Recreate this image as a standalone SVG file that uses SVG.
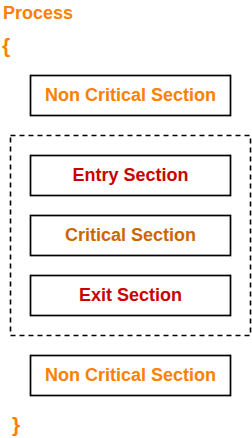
<svg xmlns="http://www.w3.org/2000/svg" width="252" height="438" viewBox="0 0 252 438">
<style>
.box{fill:#fff;stroke:#000;stroke-width:1.7}
.lbl{font-family:"Liberation Sans",Arial,sans-serif;font-weight:bold;font-size:18px;text-anchor:middle}
.orange{fill:#FF8000}
.red{fill:#CC0000}
.dorange{fill:#CC6600}
.brace{font-family:"Liberation Sans",Arial,sans-serif;font-weight:bold;fill:#FF8000}
</style>
<rect width="252" height="438" fill="#fff"/>
<text class="brace" x="3" y="19" font-size="18">Process</text>
<text class="brace" x="2" y="53" font-size="21">{</text>
<g id="connectors"></g>
<g id="group">
<rect x="10.5" y="135.5" width="240" height="200" fill="none" stroke="#000" stroke-width="1.6" stroke-dasharray="5 4"/>
</g>
<g id="noncrit1">
<rect class="box" x="30.5" y="75.5" width="200" height="40"/>
<text class="lbl orange" x="130.5" y="100.5">Non Critical Section</text>
</g>
<g id="entry">
<rect class="box" x="30.5" y="155.5" width="200" height="40"/>
<text class="lbl red" x="130.5" y="180.5">Entry Section</text>
</g>
<g id="critical">
<rect class="box" x="30.5" y="215.5" width="200" height="40"/>
<text class="lbl dorange" x="130.5" y="240.5">Critical Section</text>
</g>
<g id="exit">
<rect class="box" x="30.5" y="275.5" width="200" height="40"/>
<text class="lbl red" x="130.5" y="300.5">Exit Section</text>
</g>
<g id="noncrit2">
<rect class="box" x="30.5" y="355.5" width="200" height="40"/>
<text class="lbl orange" x="130.5" y="380.5">Non Critical Section</text>
</g>
<text class="brace" x="12" y="432" font-size="21">}</text>
</svg>
